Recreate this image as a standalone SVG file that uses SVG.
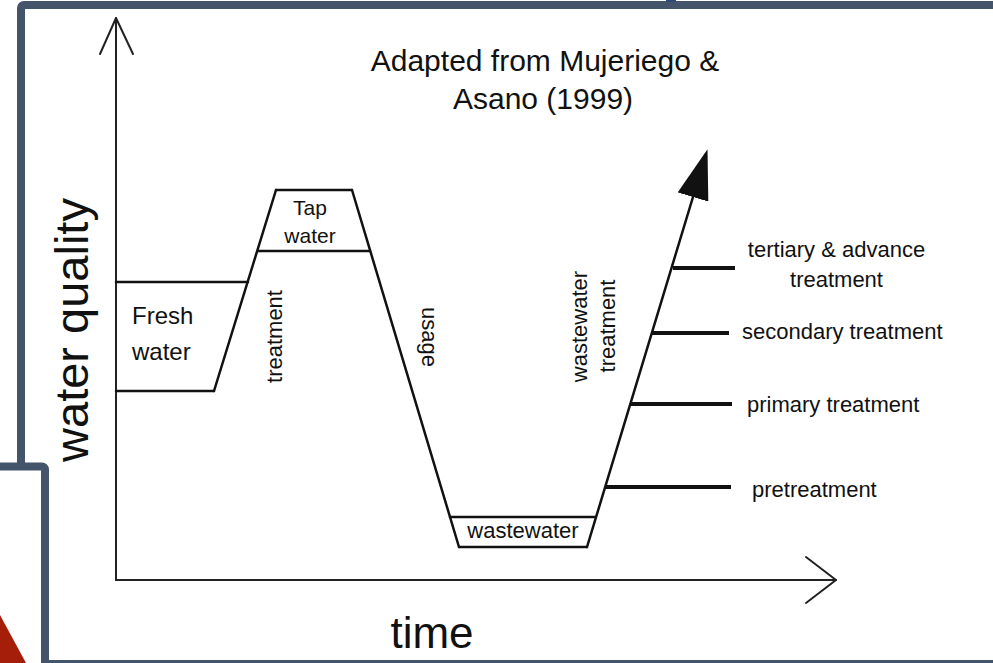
<svg xmlns="http://www.w3.org/2000/svg" width="993" height="663" viewBox="0 0 993 663">
  <style>
    .frame { fill: #ffffff; stroke: #44546A; stroke-width: 8; }
    .axis { fill: none; stroke: #222222; stroke-width: 2; stroke-linecap: round; stroke-linejoin: round; }
    .shape { fill: none; stroke: #111111; stroke-width: 2.5; stroke-linecap: round; stroke-linejoin: round; }
    .tick { fill: none; stroke: #111111; stroke-width: 4; }
    text { font-family: "Liberation Sans", Arial, sans-serif; fill: #111111; }
    .lbl { font-size: 22px; }
    .title { font-size: 30px; text-anchor: middle; }
    .mid { text-anchor: middle; }
  </style>
  <defs>
    <marker id="bigArrow" viewBox="0 -16 50 32" refX="0" refY="0" markerWidth="50" markerHeight="32" markerUnits="userSpaceOnUse" orient="auto">
      <path d="M0,-16 L50,0 L0,16 Z" fill="#111111"/>
    </marker>
  </defs>
  <rect x="0" y="0" width="993" height="663" fill="#ffffff"/>

  <g id="frame">
    <rect class="frame" x="21" y="5" width="1000" height="659" rx="3"/>
    <rect x="666" y="0" width="10" height="2" fill="#2F4A7A"/>
    <rect class="frame" x="-20" y="466.5" width="65" height="300" rx="3"/>
    <polygon points="0,615 26,663 0,663" fill="#A51E0A"/>
  </g>

  <g id="axes">
    <line class="axis" x1="116" y1="18" x2="116" y2="580"/>
    <polyline class="axis" points="100,54 116,18 133,54"/>
    <line class="axis" x1="116" y1="580" x2="836" y2="580"/>
    <polyline class="axis" points="806,557 836,580 806,603"/>
    <text x="88" y="330" font-size="47" class="mid" transform="rotate(-90 88 330)">water quality</text>
    <text x="432" y="648" font-size="44" class="mid">time</text>
  </g>

  <g id="title">
    <text class="title" x="545" y="71">Adapted from Mujeriego &amp;</text>
    <text class="title" x="543" y="109">Asano (1999)</text>
  </g>

  <g id="fresh-water">
    <line class="shape" x1="116" y1="282" x2="248" y2="282"/>
    <line class="shape" x1="116" y1="391" x2="214" y2="391"/>
    <text x="132" y="324" font-size="24">Fresh</text>
    <text x="132" y="360" font-size="24">water</text>
  </g>

  <g id="tap-water">
    <line class="shape" x1="276" y1="190" x2="352" y2="190"/>
    <line class="shape" x1="258" y1="251" x2="370" y2="251"/>
    <text x="310" y="215" font-size="21" class="mid">Tap</text>
    <text x="310" y="243" font-size="21" class="mid">water</text>
  </g>

  <g id="wastewater">
    <line class="shape" x1="450" y1="517" x2="595" y2="517"/>
    <line class="shape" x1="459" y1="547" x2="587" y2="547"/>
    <text x="523" y="538" class="lbl mid">wastewater</text>
  </g>

  <g id="connectors">
    <line id="treatment-edge" class="shape" x1="214" y1="391" x2="276" y2="190"/>
    <line id="usage-edge" class="shape" x1="352" y1="190" x2="459" y2="547"/>
    <line id="wwt-edge" class="shape" x1="587" y1="547" x2="693" y2="197" marker-end="url(#bigArrow)"/>
    <text x="282" y="336.5" class="lbl mid" transform="rotate(-90 282 336.5)">treatment</text>
    <text x="422" y="337" class="lbl mid" transform="rotate(90 422 337)">usage</text>
    <text x="587" y="326.5" class="lbl mid" transform="rotate(-90 587 326.5)">wastewater</text>
    <text x="615" y="326" class="lbl mid" transform="rotate(-90 615 326)">treatment</text>
  </g>

  <g id="stage-tertiary">
    <line class="tick" x1="673" y1="268" x2="735" y2="268"/>
    <text x="836.5" y="257" class="lbl mid">tertiary &amp; advance</text>
    <text x="836.5" y="287" class="lbl mid">treatment</text>
  </g>
  <g id="stage-secondary">
    <line class="tick" x1="652" y1="333" x2="729" y2="333"/>
    <text x="742" y="339" class="lbl">secondary treatment</text>
  </g>
  <g id="stage-primary">
    <line class="tick" x1="630" y1="404" x2="732" y2="404"/>
    <text x="747" y="412" class="lbl">primary treatment</text>
  </g>
  <g id="stage-pretreatment">
    <line class="tick" x1="605" y1="487" x2="731" y2="487"/>
    <text x="752" y="497" class="lbl">pretreatment</text>
  </g>
</svg>
